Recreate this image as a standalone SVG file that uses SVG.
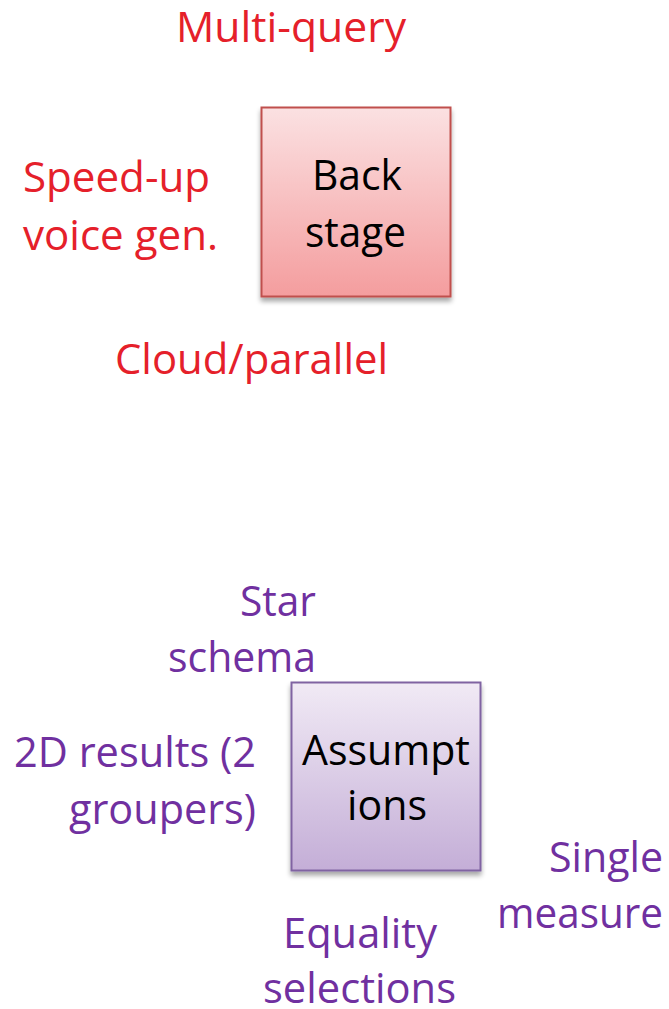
<svg xmlns="http://www.w3.org/2000/svg" width="669" height="1009" viewBox="0 0 669 1009">
<defs>
<linearGradient id="gRed" x1="0" y1="0" x2="0" y2="1">
<stop offset="0" stop-color="#fbe1e2"/>
<stop offset="1" stop-color="#f49d9e"/>
</linearGradient>
<linearGradient id="gPur" x1="0" y1="0" x2="0" y2="1">
<stop offset="0" stop-color="#f1eaf5"/>
<stop offset="1" stop-color="#c4aed7"/>
</linearGradient>
<filter id="sh" x="-10%" y="-10%" width="130%" height="130%">
<feGaussianBlur in="SourceAlpha" stdDeviation="2.5"/>
<feOffset dx="0" dy="4" result="b"/>
<feComponentTransfer><feFuncA type="linear" slope="0.35"/></feComponentTransfer>
<feMerge><feMergeNode/><feMergeNode in="SourceGraphic"/></feMerge>
</filter>
</defs>
<style>
text{font-family:"Open Sans","Noto Sans","Liberation Sans",sans-serif;font-size:42px}
.r{fill:#e5202a}
.p{fill:#7030a0}
.k{fill:#000}
</style>
<rect width="669" height="1009" fill="#fff"/>
<g id="connectors"/>
<g id="backstage">
<rect x="261.5" y="107.5" width="189" height="189" fill="url(#gRed)" stroke="#c0504d" stroke-width="2" filter="url(#sh)"/>
<text class="k" x="312" y="190" textLength="90" lengthAdjust="spacingAndGlyphs">Back</text>
<text class="k" x="305" y="247" textLength="101" lengthAdjust="spacingAndGlyphs">stage</text>
</g>
<g id="multiquery"><text class="r" x="176" y="42" textLength="230" lengthAdjust="spacingAndGlyphs">Multi-query</text></g>
<g id="speedup">
<text class="r" x="23" y="192" textLength="187" lengthAdjust="spacingAndGlyphs">Speed-up</text>
<text class="r" x="23" y="250" textLength="195" lengthAdjust="spacingAndGlyphs">voice gen.</text>
</g>
<g id="cloud"><text class="r" x="115" y="374" textLength="273" lengthAdjust="spacingAndGlyphs">Cloud/parallel</text></g>
<g id="assumptions">
<rect x="291.5" y="682.5" width="189" height="188" fill="url(#gPur)" stroke="#8064a2" stroke-width="2" filter="url(#sh)"/>
<text class="k" x="302" y="765" textLength="168" lengthAdjust="spacingAndGlyphs">Assumpt</text>
<text class="k" x="347" y="820" textLength="80" lengthAdjust="spacingAndGlyphs">ions</text>
</g>
<g id="star">
<text class="p" x="240" y="616" textLength="76" lengthAdjust="spacingAndGlyphs">Star</text>
<text class="p" x="168" y="672" textLength="148" lengthAdjust="spacingAndGlyphs">schema</text>
</g>
<g id="results2d">
<text class="p" x="14" y="767" textLength="242" lengthAdjust="spacingAndGlyphs">2D results (2</text>
<text class="p" x="69" y="824" textLength="187" lengthAdjust="spacingAndGlyphs">groupers)</text>
</g>
<g id="single">
<text class="p" x="549" y="872" textLength="114" lengthAdjust="spacingAndGlyphs">Single</text>
<text class="p" x="497" y="928" textLength="166" lengthAdjust="spacingAndGlyphs">measure</text>
</g>
<g id="equality">
<text class="p" x="283" y="948" textLength="154" lengthAdjust="spacingAndGlyphs">Equality</text>
<text class="p" x="263" y="1003" textLength="193" lengthAdjust="spacingAndGlyphs">selections</text>
</g>
</svg>
